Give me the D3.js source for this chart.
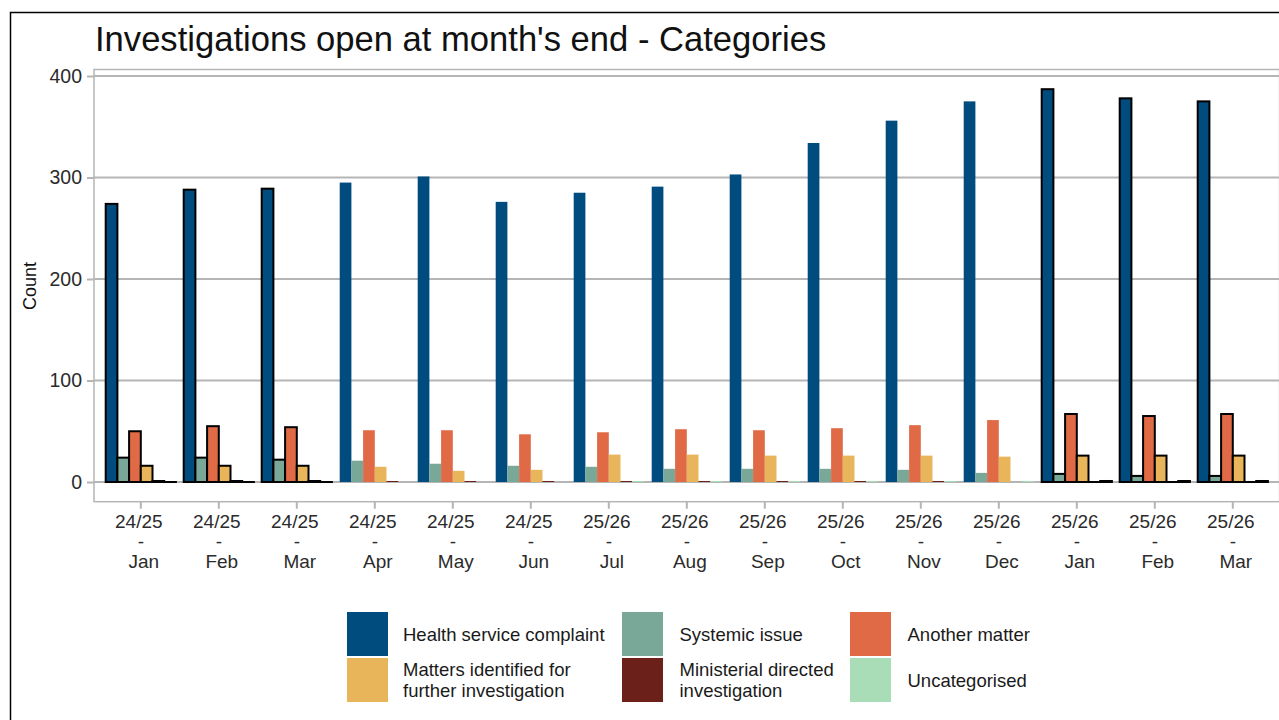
<!DOCTYPE html>
<html>
<head>
<script src="https://cdn.jsdelivr.net/npm/d3@7"></script>
<style>
  body { margin: 0; background: #fff; }
  text { font-family: "Liberation Sans", Arial, sans-serif; }
</style>
</head>
<body>
<svg id="chart" width="1279" height="720"></svg>
<script>
// financial year + month for each group
var years = ["24/25","24/25","24/25","24/25","24/25","24/25","25/26","25/26","25/26","25/26","25/26","25/26","25/26","25/26","25/26"];
var months = ["Jan","Feb","Mar","Apr","May","Jun","Jul","Aug","Sep","Oct","Nov","Dec","Jan","Feb","Mar"];

var healthComplaint = [274, 288, 289, 295, 301, 276, 285, 291, 303, 334, 356, 375, 387, 378, 375];
var systemicIssue   = [24, 24, 22, 21, 18, 16, 15, 13, 13, 13, 12, 9, 8, 6, 6];
var anotherMatter   = [50, 55, 54, 51, 51, 47, 49, 52, 51, 53, 56, 61, 67, 65, 67];
var mattersFurther  = [16, 16, 16, 15, 11, 12, 27, 27, 26, 26, 26, 25, 26, 26, 26];
var ministerial     = [1, 1, 1, 1, 1, 1, 1, 1, 1, 1, 1, 0, 0, 0, 0];
var uncategorised   = [0, 0, 0, 0, 0, 0, 1, 1, 1, 1, 1, 1, 1, 1, 1];

// groups drawn with a black outline
var outlined = [0, 1, 2, 12, 13, 14];

var seriesNames = ["Health service complaint", "Systemic issue", "Another matter",
                   "Matters identified for further investigation", "Ministerial directed investigation", "Uncategorised"];
var seriesColors = ["#004c7f", "#7aa898", "#e06a45", "#e9b55a", "#6b2019", "#a9ddb7"];
var seriesValues = [healthComplaint, systemicIssue, anotherMatter, mattersFurther, ministerial, uncategorised];
var yTicks = [0, 100, 200, 300, 400];

var svg = d3.select("#chart");

// outer frame
svg.append("rect")
  .attr("x", 10.5).attr("y", 12.5)
  .attr("width", 1400).attr("height", 800)
  .attr("fill", "none").attr("stroke", "#000").attr("stroke-width", 1.5);

svg.append("text")
  .attr("x", 95).attr("y", 51)
  .attr("font-size", 34.6)
  .attr("fill", "#111")
  .text("Investigations open at month's end - Categories");

var plotLeft = 94, plotRight = 1279.6, plotTop = 69.5, plotBottom = 501.7;

var x0 = d3.scaleBand()
  .domain(d3.range(months.length))
  .range([plotLeft, plotRight])
  .paddingInner(0)
  .paddingOuter(0.1);

var step = x0.step();
var x1 = d3.scaleBand()
  .domain(d3.range(seriesNames.length))
  .range([-0.45 * step, 0.45 * step]);

var y = d3.scaleLinear()
  .domain([-19.4, 406.4])
  .range([plotBottom, plotTop]);

// grid
svg.append("g").selectAll("line")
  .data(yTicks)
  .enter().append("line")
  .attr("x1", plotLeft).attr("x2", plotRight)
  .attr("y1", function(d) { return y(d); })
  .attr("y2", function(d) { return y(d); })
  .attr("stroke", "#b5b5b5").attr("stroke-width", 2);

// panel border
svg.append("rect")
  .attr("x", plotLeft).attr("y", plotTop)
  .attr("width", plotRight - plotLeft).attr("height", plotBottom - plotTop)
  .attr("fill", "none").attr("stroke", "#b5b5b5").attr("stroke-width", 1.5);

// y axis
var yAxis = svg.append("g")
  .attr("transform", "translate(" + plotLeft + ",0)")
  .call(d3.axisLeft(y).tickValues(yTicks).tickSize(7).tickPadding(5));
yAxis.select(".domain").remove();
yAxis.selectAll(".tick line").attr("stroke", "#b5b5b5").attr("stroke-width", 2);
yAxis.selectAll(".tick text")
  .attr("font-size", 19.5).attr("fill", "#2b2b2b")
  .attr("font-family", "Liberation Sans, Arial, sans-serif");

// x axis
var xAxis = svg.append("g")
  .attr("transform", "translate(0," + plotBottom + ")")
  .call(d3.axisBottom(x0).tickSize(7).tickFormat(""));
xAxis.select(".domain").remove();
xAxis.selectAll(".tick line").attr("stroke", "#b5b5b5").attr("stroke-width", 2);
xAxis.selectAll(".tick").each(function(d, i) {
  var t = d3.select(this).append("text")
    .attr("fill", "#2b2b2b")
    .attr("font-size", 19)
    .attr("text-anchor", "middle");
  t.append("tspan").attr("x", -2).attr("y", 26).text(years[i]);
  t.append("tspan").attr("x", 0).attr("y", 46).text("-");
  t.append("tspan").attr("x", 3).attr("y", 66).text(months[i]);
});

svg.append("text")
  .attr("transform", "translate(36,286) rotate(-90)")
  .attr("text-anchor", "middle")
  .attr("font-size", 18)
  .attr("fill", "#111")
  .text("Count");

// bars
var groups = svg.append("g").selectAll("g")
  .data(d3.range(months.length))
  .enter().append("g")
  .attr("transform", function(i) { return "translate(" + (x0(i) + step / 2) + ",0)"; });

groups.selectAll("rect")
  .data(function(i) {
    return seriesValues.map(function(vals, s) {
      return { s: s, v: vals[i], hl: outlined.indexOf(i) >= 0 };
    });
  })
  .enter().append("rect")
  .attr("x", function(d) { return x1(d.s); })
  .attr("width", x1.bandwidth())
  .attr("y", function(d) { return y(d.v); })
  .attr("height", function(d) { return Math.max(y(0) - y(d.v), 0.01); })
  .attr("fill", function(d) { return seriesColors[d.s]; })
  .attr("stroke", function(d) { return d.hl ? "#000" : "none"; })
  .attr("stroke-width", 2)
  .style("display", function(d) { return (!d.hl && d.v === 0) ? "none" : null; });

// legend
var legendX = [347, 622, 850];
var legendY = [612, 658];
var legend = svg.append("g").selectAll("g")
  .data(seriesNames)
  .enter().append("g")
  .attr("transform", function(d, i) {
    return "translate(" + legendX[i % 3] + "," + legendY[Math.floor(i / 3)] + ")";
  });

legend.append("rect")
  .attr("width", 41).attr("height", 44)
  .attr("fill", function(d, i) { return seriesColors[i]; });

legend.each(function(d, i) {
  var words = d.split(" ");
  var lines = [d];
  if (d.length > 30) {
    // wrap long names over two lines as in the original
    var cut = d === seriesNames[3] ? 3 : 2;
    lines = [words.slice(0, cut).join(" "), words.slice(cut).join(" ")];
  }
  var t = d3.select(this).append("text")
    .attr("font-size", 18.5)
    .attr("fill", "#1a1a1a");
  lines.forEach(function(l, k) {
    t.append("tspan")
      .attr("x", i % 3 === 0 ? 56 : 57.5)
      .attr("y", lines.length === 1 ? 29 : 18 + k * 21)
      .text(l);
  });
});
</script>
</body>
</html>
